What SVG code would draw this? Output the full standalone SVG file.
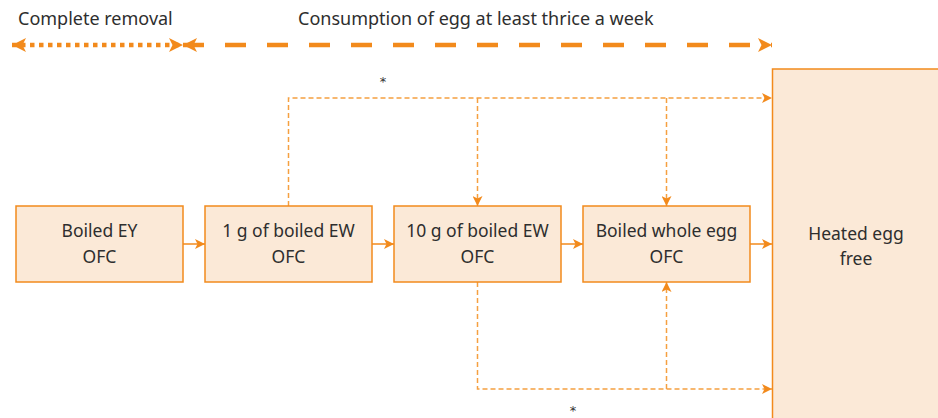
<svg xmlns="http://www.w3.org/2000/svg" width="938" height="418" viewBox="0 0 938 418">
<defs>
<marker id="ah" viewBox="0 0 10 10" refX="10" refY="5" markerWidth="10" markerHeight="10" markerUnits="userSpaceOnUse" orient="auto-start-reverse">
<path d="M0,0 L10,5 L0,10 L2.5,5 Z" fill="#f28a1c"/>
</marker>
<marker id="ahb" viewBox="0 0 10 10" refX="10" refY="5" markerWidth="16" markerHeight="14" markerUnits="userSpaceOnUse" orient="auto-start-reverse">
<path d="M0,0 L10,5 L0,10 L2.5,5 Z" fill="#f28a1c"/>
</marker>
</defs>
<style>
.box{fill:#fbe9d7;stroke:#f28a1c;stroke-width:1.5}
.t{font-family:"Noto Sans","Open Sans","Liberation Sans",sans-serif;font-size:17.5px;fill:#2e2e2e;text-anchor:middle}
.lg{font-family:"Noto Sans","Open Sans","Liberation Sans",sans-serif;font-size:18px;fill:#2e2e2e}
.solid{stroke:#f28a1c;stroke-width:1.5;fill:none}
.dash{stroke:#f5a040;stroke-width:1.5;stroke-dasharray:5 3;fill:none}
.star{font-family:"DejaVu Sans",sans-serif;font-size:13px;fill:#333;text-anchor:middle}
</style>
<g id="legend">
<text class="lg" x="18" y="25">Complete removal</text>
<text class="lg" x="298" y="25">Consumption of egg at least thrice a week</text>
<line x1="12" y1="45" x2="183" y2="45" stroke="#f28a1c" stroke-width="4.5" stroke-dasharray="4.5 4.5" marker-start="url(#ahb)" marker-end="url(#ahb)"/>
<line x1="183" y1="45" x2="772" y2="45" stroke="#f28a1c" stroke-width="4.5" stroke-dasharray="21 21" marker-start="url(#ahb)" marker-end="url(#ahb)"/>
</g>
<g id="connectors">
<line class="solid" x1="183" y1="244" x2="205" y2="244" marker-end="url(#ah)"/>
<line class="solid" x1="372" y1="244" x2="394" y2="244" marker-end="url(#ah)"/>
<line class="solid" x1="561" y1="244" x2="583" y2="244" marker-end="url(#ah)"/>
<line class="solid" x1="750" y1="244" x2="772" y2="244" marker-end="url(#ah)"/>
<path class="dash" d="M288.5,206 V98 H772" marker-end="url(#ah)"/>
<path class="dash" d="M477.5,98 V206" marker-end="url(#ah)"/>
<path class="dash" d="M666.5,98 V206" marker-end="url(#ah)"/>
<path class="dash" d="M477.5,282 V389 H772" marker-end="url(#ah)"/>
<path class="dash" d="M666.5,389 V282" marker-end="url(#ah)"/>
<text class="star" x="383" y="86">*</text>
<text class="star" x="573" y="415">*</text>
</g>
<g id="n1">
<rect class="box" x="16" y="206" width="167" height="76"/>
<text class="t" x="99.5" y="237">Boiled EY</text>
<text class="t" x="99.5" y="263">OFC</text>
</g>
<g id="n2">
<rect class="box" x="205" y="206" width="167" height="76"/>
<text class="t" x="288.5" y="237">1 g of boiled EW</text>
<text class="t" x="288.5" y="263">OFC</text>
</g>
<g id="n3">
<rect class="box" x="394" y="206" width="167" height="76"/>
<text class="t" x="477.5" y="237">10 g of boiled EW</text>
<text class="t" x="477.5" y="263">OFC</text>
</g>
<g id="n4">
<rect class="box" x="583" y="206" width="167" height="76"/>
<text class="t" x="666.5" y="237">Boiled whole egg</text>
<text class="t" x="666.5" y="263">OFC</text>
</g>
<g id="n5">
<rect class="box" x="772.5" y="69" width="180" height="360"/>
<text class="t" x="856" y="240">Heated egg</text>
<text class="t" x="856" y="265">free</text>
</g>
</svg>
